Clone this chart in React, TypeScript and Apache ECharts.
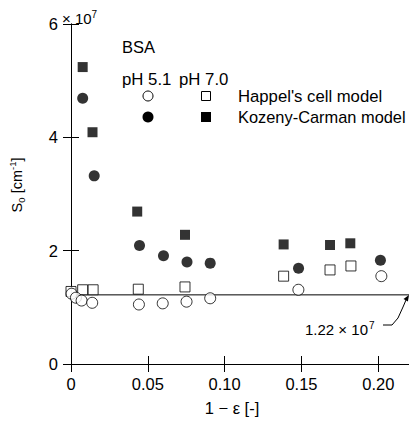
import React, { useEffect, useRef } from "react";
import * as echarts from "echarts";

// 1 - epsilon [-] vs S0 [x10^7 cm^-1]
const happelPH51: [number, number][] = [
  [0.0004, 1.24], [0.0032, 1.17], [0.0069, 1.12], [0.0138, 1.08], [0.0442, 1.05],
  [0.0597, 1.07], [0.0752, 1.1], [0.0906, 1.16], [0.148, 1.31], [0.202, 1.55],
];
const happelPH70: [number, number][] = [
  [0.0, 1.28], [0.0076, 1.31], [0.0144, 1.31], [0.0438, 1.32], [0.0742, 1.36],
  [0.1384, 1.55], [0.1686, 1.66], [0.1822, 1.73],
];
const kozenyPH51: [number, number][] = [
  [0.0076, 4.69], [0.0151, 3.32], [0.0446, 2.09], [0.0602, 1.91], [0.0755, 1.8],
  [0.0906, 1.78], [0.1481, 1.69], [0.2014, 1.83],
];
const kozenyPH70: [number, number][] = [
  [0.0076, 5.24], [0.014, 4.09], [0.0431, 2.69], [0.0742, 2.28], [0.1384, 2.11],
  [0.1686, 2.1], [0.1818, 2.13],
];
const refValue = 1.22;
const xMin = 0;
const xMax = 0.22;
const xInterval = 0.05;
const yMin = 0;
const yMax = 6;
const yInterval = 2;

export default function App() {
  const ref = useRef<HTMLDivElement>(null);
  useEffect(() => {
    document.body.style.margin = "0";
    const chart = echarts.init(ref.current!, null, { renderer: "svg" });
    const font = "'Liberation Sans', Arial, Helvetica, sans-serif";
    const black = "#000";
    const lineStyle = { color: black, width: 1 };
    const baseX = {
      type: "value" as const,
      min: xMin,
      max: xMax,
      interval: xInterval,
      axisLine: { show: true, lineStyle },
      axisTick: { show: true, inside: true, length: 8, lineStyle },
      splitLine: { show: false },
    };
    const baseY = {
      type: "value" as const,
      min: yMin,
      max: yMax,
      interval: yInterval,
      axisLine: { show: true, lineStyle },
      axisTick: { show: true, inside: true, length: 8, lineStyle },
      splitLine: { show: false },
    };
    const openStyle = { color: "#fff", borderColor: black, borderWidth: 1 };
    const filledStyle = { color: black, borderColor: black, borderWidth: 0 };
    const txt = (x: number, y: number, text: string, size: number, extra: any = {}) => ({
      type: "text",
      x,
      y,
      style: {
        text,
        fontSize: size,
        fontFamily: font,
        fill: black,
        align: "left",
        verticalAlign: "middle",
        ...extra,
      },
    });
    chart.setOption({
      animation: false,
      backgroundColor: "#fff",
      grid: { left: 71, right: -2, top: 24, bottom: 62, containLabel: false },
      xAxis: [
        {
          ...baseX,
          position: "bottom",
          axisLabel: {
            show: true,
            margin: 11,
            fontSize: 16.5,
            fontFamily: font,
            color: black,
            showMaxLabel: false,
            formatter: (v: number) => (v === 0 ? "0" : v.toFixed(2)),
          },
        },
        { ...baseX, position: "top", axisLabel: { show: false } },
      ],
      yAxis: [
        {
          ...baseY,
          position: "left",
          axisLabel: {
            show: true,
            margin: 13,
            fontSize: 16.5,
            fontFamily: font,
            color: black,
            formatter: (v: number) => String(v),
          },
        },
        { ...baseY, position: "right", axisLabel: { show: false } },
      ],
      series: [
        {
          type: "line",
          data: [[xMin, refValue], [xMax, refValue]],
          symbol: "none",
          lineStyle: { color: black, width: 1 },
          z: 1,
          silent: true,
        },
        {
          name: "Happel pH 7.0",
          type: "scatter",
          data: happelPH70,
          symbol: "rect",
          symbolSize: 10,
          itemStyle: openStyle,
          clip: false,
          z: 2,
        },
        {
          name: "Happel pH 5.1",
          type: "scatter",
          data: happelPH51,
          symbol: "circle",
          symbolSize: 11,
          itemStyle: openStyle,
          clip: false,
          z: 3,
        },
        {
          name: "Kozeny pH 7.0",
          type: "scatter",
          data: kozenyPH70,
          symbol: "rect",
          symbolSize: 10,
          itemStyle: filledStyle,
          clip: false,
          z: 2,
        },
        {
          name: "Kozeny pH 5.1",
          type: "scatter",
          data: kozenyPH51,
          symbol: "circle",
          symbolSize: 11,
          itemStyle: filledStyle,
          clip: false,
          z: 3,
        },
      ],
      graphic: [
        // "× 10^7" exponent label
        txt(62, 18, "× 10", 15),
        txt(91.5, 14, "7", 10),
        // y axis name, rotated
        {
          type: "group",
          x: 17,
          y: 185,
          rotation: Math.PI / 2,
          children: [
            txt(-27.4, 0, "S", 14.5),
            txt(-17.8, 4, "0", 9.5),
            txt(-12.4, 0, " [cm", 14.5),
            txt(15.0, -4.5, "-1", 9.5),
            txt(23.4, 0, "]", 14.5),
          ],
        },
        txt(232, 408, "1 − ε [-]", 16.5, { align: "center" }),
        txt(122, 47, "BSA", 16.5),
        txt(122, 79, "pH 5.1", 16.8),
        txt(179, 79, "pH 7.0", 16.8),
        txt(238, 96, "Happel's cell model", 16.7),
        txt(238, 117, "Kozeny-Carman model", 16.4),
        {
          type: "circle",
          shape: { cx: 148, cy: 96, r: 5 },
          style: { fill: "#fff", stroke: black, lineWidth: 1 },
        },
        {
          type: "circle",
          shape: { cx: 148, cy: 117, r: 5.5 },
          style: { fill: black },
        },
        {
          type: "rect",
          shape: { x: 201.5, y: 91.5, width: 9, height: 9 },
          style: { fill: "#fff", stroke: black, lineWidth: 1 },
        },
        {
          type: "rect",
          shape: { x: 201, y: 112, width: 10, height: 10 },
          style: { fill: black },
        },
        // reference value annotation
        txt(305, 329, "1.22 × 10", 15),
        txt(369, 325, "7", 10),
        {
          type: "polyline",
          shape: { points: [[383, 325], [392, 325], [398, 318], [403, 307], [406, 300]] },
          style: { stroke: black, lineWidth: 1, fill: null },
        },
        {
          type: "polygon",
          shape: { points: [[409, 295], [407.9, 301.6], [403.5, 299]] },
          style: { fill: black },
        },
      ],
    });
    return () => chart.dispose();
  }, []);
  return <div ref={ref} style={{ width: 409, height: 426 }} />;
}
